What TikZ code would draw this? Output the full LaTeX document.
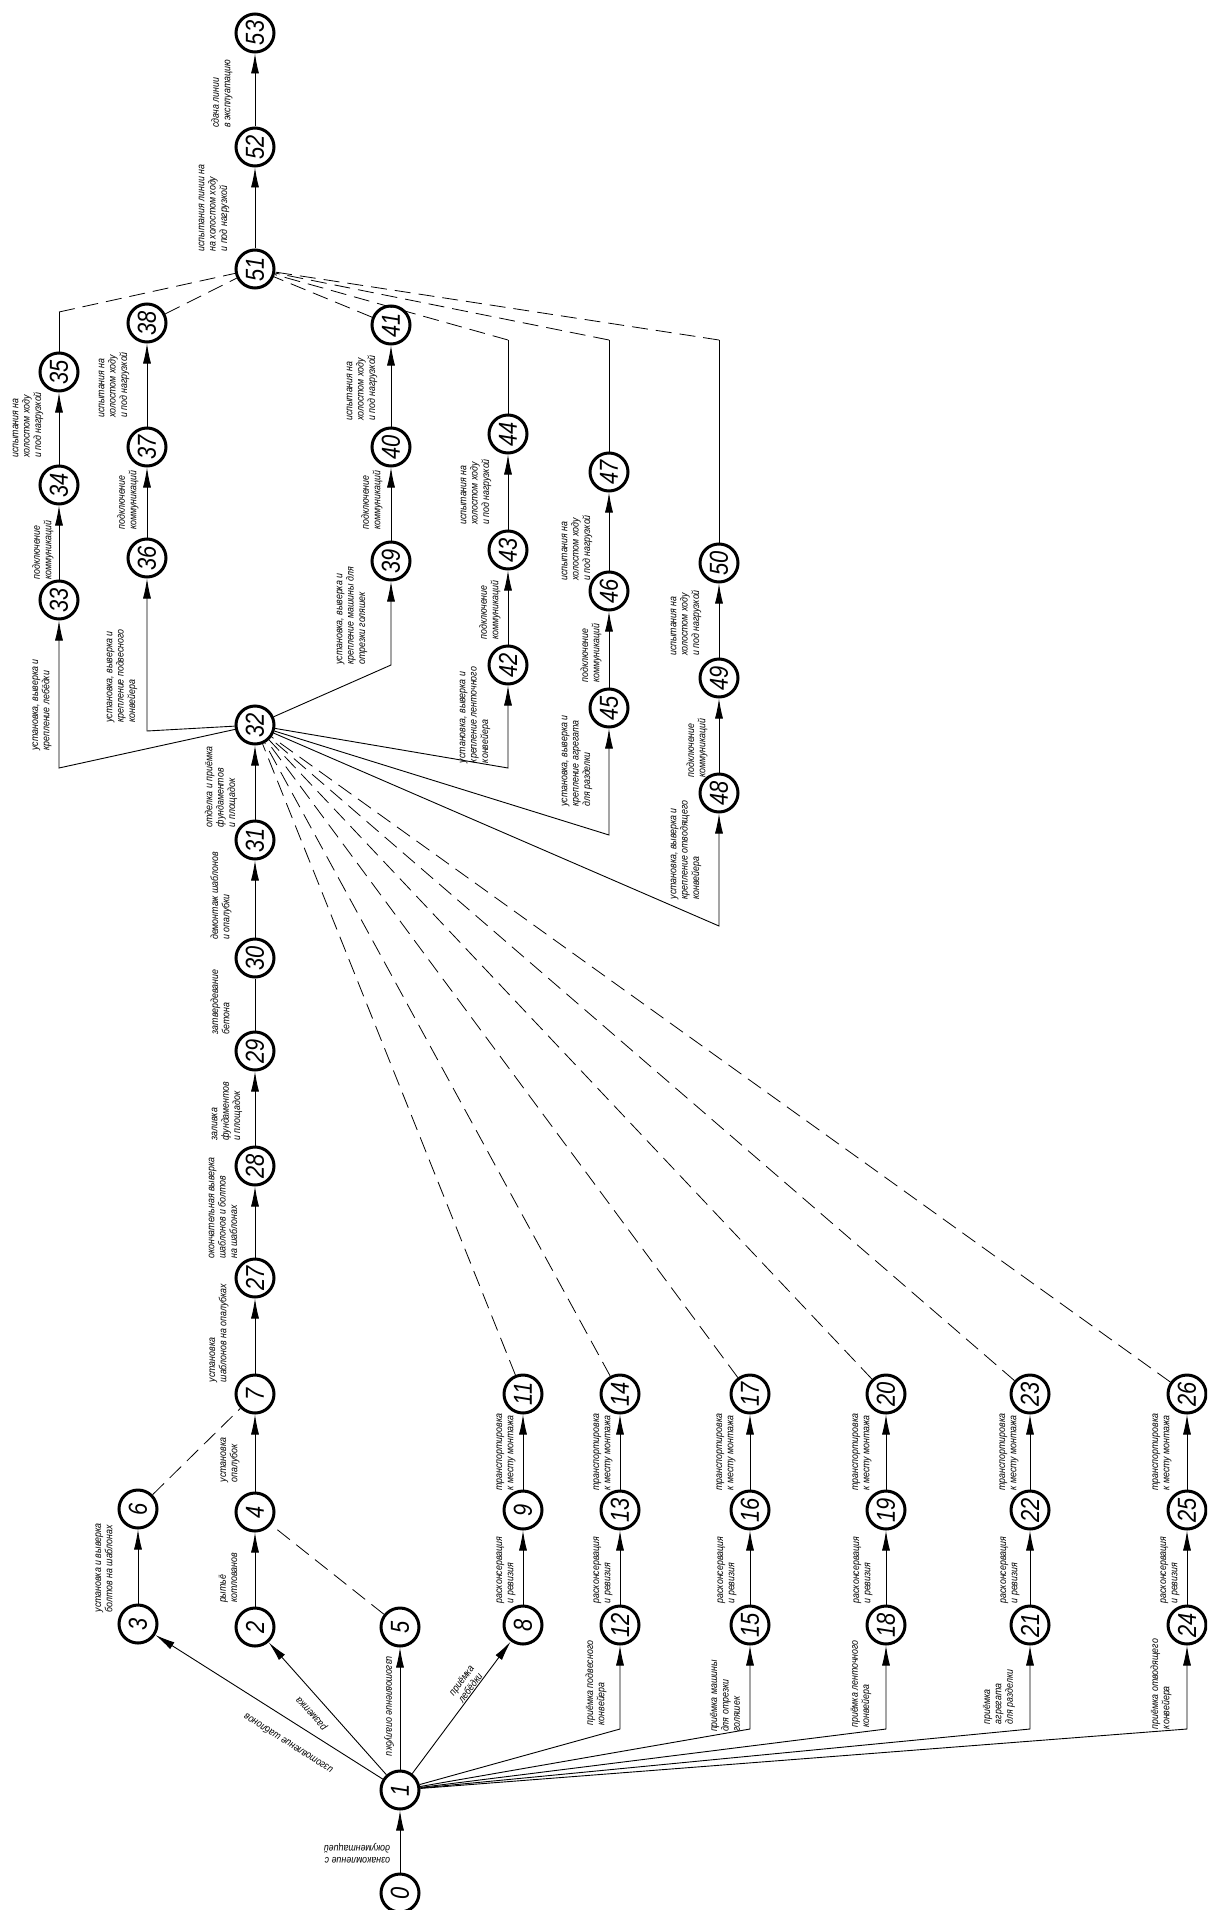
\documentclass[tikz,border=0pt]{standalone}
\usepackage{fontspec}
\setmainfont{Liberation Sans}[FakeStretch=0.85]
\newfontfamily\numfont{Liberation Sans}[FakeStretch=0.84]
\usetikzlibrary{arrows.meta}
\begin{document}
\begin{tikzpicture}[x=1pt,y=1pt,
  ev/.style={circle, draw, line width=3pt, minimum size=38pt, inner sep=0pt, rotate=90,
     font=\numfont\itshape\fontsize{26}{26}\selectfont},
  job/.style={line width=0.9pt, -{Latex[length=20pt,width=8pt]}},
  link/.style={line width=0.9pt},
  dummy/.style={line width=0.8pt, dash pattern=on 16pt off 8pt},
  lbl/.style={font=\itshape\fontsize{10.4}{11.4}\selectfont, align=left, inner sep=0pt, rotate=90},
]
\useasboundingbox (0,0) rectangle (1207,-1910);
\clip (0,0) rectangle (1207,-1910);

% ---- events ----
\node[ev] (n0) at (400,-1893) {0};
\node[ev] (n1) at (400,-1790) {1};
\node[ev] (n2) at (255,-1627) {2};
\node[ev] (n3) at (138,-1624) {3};
\node[ev] (n4) at (255,-1512) {4};
\node[ev] (n5) at (400,-1627) {5};
\node[ev] (n6) at (138,-1509) {6};
\node[ev] (n7) at (255,-1394) {7};
\node[ev] (n8) at (523,-1625) {8};
\node[ev] (n9) at (523,-1510) {9};
\node[ev] (n11) at (523,-1394) {11};
\node[ev] (n12) at (620,-1625) {12};
\node[ev] (n13) at (620,-1510) {13};
\node[ev] (n14) at (620,-1394) {14};
\node[ev] (n15) at (750,-1625) {15};
\node[ev] (n16) at (750,-1510) {16};
\node[ev] (n17) at (750,-1394) {17};
\node[ev] (n18) at (886,-1625) {18};
\node[ev] (n19) at (886,-1510) {19};
\node[ev] (n20) at (886,-1394) {20};
\node[ev] (n21) at (1030,-1625) {21};
\node[ev] (n22) at (1030,-1510) {22};
\node[ev] (n23) at (1030,-1394) {23};
\node[ev] (n24) at (1187,-1625) {24};
\node[ev] (n25) at (1187,-1510) {25};
\node[ev] (n26) at (1187,-1394) {26};
\node[ev] (n27) at (255,-1278) {27};
\node[ev] (n28) at (255,-1166) {28};
\node[ev] (n29) at (255,-1051) {29};
\node[ev] (n30) at (255,-958) {30};
\node[ev] (n31) at (255,-840) {31};
\node[ev] (n32) at (255,-725) {32};
\node[ev] (n33) at (59,-600) {33};
\node[ev] (n34) at (59,-485) {34};
\node[ev] (n35) at (59,-372) {35};
\node[ev] (n36) at (147,-558) {36};
\node[ev] (n37) at (147,-447) {37};
\node[ev] (n38) at (147,-323) {38};
\node[ev] (n39) at (391,-561) {39};
\node[ev] (n40) at (391,-447) {40};
\node[ev] (n41) at (391,-325) {41};
\node[ev] (n42) at (508,-665) {42};
\node[ev] (n43) at (508,-550) {43};
\node[ev] (n44) at (508,-434) {44};
\node[ev] (n45) at (609,-708) {45};
\node[ev] (n46) at (609,-591) {46};
\node[ev] (n47) at (609,-472) {47};
\node[ev] (n48) at (719,-793) {48};
\node[ev] (n49) at (719,-678) {49};
\node[ev] (n50) at (719,-563) {50};
\node[ev] (n51) at (255,-269) {51};
\node[ev] (n52) at (255,-147) {52};
\node[ev] (n53) at (255,-33) {53};

% ---- bends of the broken connectors ----
\coordinate (c12) at (620,-1729);
\coordinate (c15) at (750,-1729);
\coordinate (c18) at (886,-1729);
\coordinate (c21) at (1030,-1729);
\coordinate (c24) at (1187,-1729);
\coordinate (c33) at (59,-768);
\coordinate (c36) at (147,-731);
\coordinate (c39) at (391,-665);
\coordinate (c42) at (508,-768);
\coordinate (c45) at (609,-835);
\coordinate (c48) at (719,-926);
\coordinate (d35) at (59,-312);
\coordinate (d44) at (508,-340);
\coordinate (d47) at (609,-340);
\coordinate (d50) at (719,-340);

% ---- works ----
\draw[job] (n0) -- (n1);
\draw[job] (n1) -- (n3);
\draw[job] (n1) -- (n2);
\draw[job] (n1) -- (n5);
\draw[job] (n1) -- (n8);
\foreach \k in {12,15,18,21,24} \draw[job] (n1) -- (c\k) -- (n\k);
\draw[job] (n3) -- (n6);
\draw[job] (n2) -- (n4);
\draw[job] (n4) -- (n7);
\foreach \a/\b in {8/9,9/11,12/13,13/14,15/16,16/17,18/19,19/20,21/22,22/23,24/25,25/26}
  \draw[job] (n\a) -- (n\b);
\draw[job] (n7) -- (n27);
\draw[job] (n27) -- (n28);
\draw[job] (n28) -- (n29);
\draw[link] (n29) -- (n30);
\draw[job] (n30) -- (n31);
\draw[job] (n31) -- (n32);
\foreach \k in {33,36,39,42,45,48} \draw[job] (n32) -- (c\k) -- (n\k);
\foreach \a/\b in {33/34,34/35,36/37,37/38,39/40,40/41,42/43,43/44,45/46,46/47,48/49,49/50}
  \draw[job] (n\a) -- (n\b);
\draw[job] (n51) -- (n52);
\draw[job] (n52) -- (n53);

% ---- dummy works ----
\draw[dummy] (n6) -- (n7);
\draw[dummy] (n5) -- (n4);
\foreach \k in {11,14,17,20,23,26} \draw[dummy] (n\k) -- (n32);
\draw[dummy] (n38) -- (n51);
\draw[dummy] (n41) -- (n51);
\foreach \k in {35,44,47,50} {
  \draw[link] (n\k) -- (d\k);
  \draw[dummy] (d\k) -- (n51);
}

% ---- work names (the style turns them by 90 degrees; extra turns add to it) ----
\node[lbl, rotate=90] (t01) at (357,-1853) {ознакомление с\\документацией};
\node[lbl, rotate=57.6] (t13) at (288,-1744) {изготовление шаблонов};
\node[lbl, rotate=41.7] (t12) at (312,-1713) {разметка};
\node[lbl, rotate=180] (t15) at (389,-1706) {изготовление опалубки};
\node[lbl, rotate=-36.7] (t18) at (466,-1684) {приёмка\\лебёдки};
\node[lbl] (t36) at (104,-1568) {установка и выверка\\болтов на шаблонах};
\node[lbl] (t24) at (228,-1578) {рытьё\\котлованов};
\node[lbl] (t47) at (230,-1460) {установка\\опалубок};

\node[lbl] (t0809) at (506,-1570) {расконсервация\\и ревизия};
\node[lbl] (t0911) at (506,-1452) {транспортировка\\к месту монтажа};
\node[lbl] (t0112) at (596,-1683) {приёмка подвесного\\конвейера};
\node[lbl] (t1213) at (603,-1570) {расконсервация\\и ревизия};
\node[lbl] (t1314) at (603,-1452) {транспортировка\\к месту монтажа};
\node[lbl] (t0115) at (725,-1696) {приёмка машины\\для отрезки\\голяшек};
\node[lbl] (t1516) at (727,-1570) {расконсервация\\и ревизия};
\node[lbl] (t1617) at (726,-1452) {транспортировка\\к месту монтажа};
\node[lbl] (t0118) at (861,-1684) {приёмка ленточного\\конвейера};
\node[lbl] (t1819) at (863,-1570) {расконсервация\\и ревизия};
\node[lbl] (t1920) at (862,-1452) {транспортировка\\к месту монтажа};
\node[lbl] (t0121) at (999,-1697) {приёмка\\агрегата\\для разделки};
\node[lbl] (t2122) at (1010,-1570) {расконсервация\\и ревизия};
\node[lbl] (t2223) at (1009,-1452) {транспортировка\\к месту монтажа};
\node[lbl] (t0124) at (1161,-1684) {приёмка отводящего\\конвейера};
\node[lbl] (t2425) at (1170,-1570) {расконсервация\\и ревизия};
\node[lbl] (t2526) at (1162,-1452) {транспортировка\\к месту монтажа};

\node[lbl] (t0727) at (219,-1333) {установка\\шаблонов на опалубках};
\node[lbl] (t2728) at (223,-1208) {окончательная выверка\\шаблонов и болтов\\на шаблонах};
\node[lbl] (t2829) at (227,-1111) {заливка\\фундаментов\\и площадок};
\node[lbl] (t2930) at (220,-1002) {затвердевание\\бетона};
\node[lbl] (t3031) at (221,-896) {демонтаж шаблонов\\и опалубки};
\node[lbl] (t3132) at (221,-787) {отделка и приёмка\\фундаментов\\и площадок};

\node[lbl] (t3233) at (42,-705) {установка, выверка и\\крепление лебёдки};
\node[lbl] (t3334) at (43,-550) {подключение\\коммуникаций};
\node[lbl] (t3435) at (28,-425) {испытания на\\холостом ходу\\и под нагрузкой};
\node[lbl] (t3236) at (122,-676) {установка, выверка и\\крепление подвесного\\конвейера};
\node[lbl] (t3637) at (128,-500) {подключение\\коммуникаций};
\node[lbl] (t3738) at (114,-385) {испытания на\\холостом ходу\\и под нагрузкой};
\node[lbl] (t3239) at (352,-616) {установка, выверка и\\крепление машины для\\отрезки голяшек};
\node[lbl] (t3940) at (372,-500) {подключение\\коммуникаций};
\node[lbl] (t4041) at (362,-388) {испытания на\\холостом ходу\\и под нагрузкой};
\node[lbl] (t3242) at (475,-715) {установка, выверка и\\крепление ленточного\\конвейера};
\node[lbl] (t4243) at (490,-610) {подключение\\коммуникаций};
\node[lbl] (t4344) at (476,-492) {испытания на\\холостом ходу\\и под нагрузкой};
\node[lbl] (t3245) at (577,-761) {установка, выверка и\\крепление агрегата\\для разделки};
\node[lbl] (t4546) at (591,-653) {подключение\\коммуникаций};
\node[lbl] (t4647) at (577,-548) {испытания на\\холостом ходу\\и под нагрузкой};
\node[lbl] (t3248) at (686,-850) {установка, выверка и\\крепление отводящего\\конвейера};
\node[lbl] (t4849) at (697,-748) {подключение\\коммуникаций};
\node[lbl] (t4950) at (686,-623) {испытания на\\холостом ходу\\и под нагрузкой};

\node[lbl] (t5152) at (214,-208) {испытания линии на\\на холостом ходу\\и под нагрузкой};
\node[lbl] (t5253) at (222,-94) {сдача линии\\в эксплуатацию};
\end{tikzpicture}
\end{document}
